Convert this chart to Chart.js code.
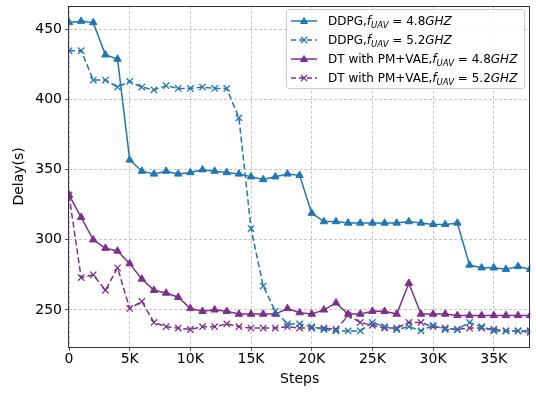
<!DOCTYPE html>
<html>
<head>
<meta charset="utf-8">
<script src="https://cdn.jsdelivr.net/npm/chart.js@4"></script>
<style>
body { margin: 0; background: #fff; }
#wrap { position: relative; width: 536px; height: 393px; }
#legend {
	position: absolute; left: 286px; top: 9px; width: 237px; height: 77px;
	border: 1px solid #cccccc; border-radius: 3px; background: rgba(255,255,255,0.85);
	font-family: "DejaVu Sans"; font-size: 12px; color: #000; padding-top: 1px;
}
.row { height: 19px; display: flex; align-items: center; white-space: nowrap; }
.row svg { margin-left: 3px; margin-right: 10px; }
.sub { font-size: 8.5px; position: relative; top: 3px; font-style: italic; }
</style>
</head>
<body>
<div id="wrap">
	<canvas id="delayc" width="536" height="393"></canvas>
	<div id="legend"></div>
</div>
<script>
// Data

var steps = [0, 1000, 2000, 3000, 4000, 5000, 6000, 7000, 8000, 9000, 10000, 11000, 12000, 13000, 14000, 15000, 16000, 17000, 18000, 19000,
	20000, 21000, 22000, 23000, 24000, 25000, 26000, 27000, 28000, 29000, 30000, 31000, 32000, 33000, 34000, 35000, 36000, 37000, 38000];

var ddpg48 = [455, 456, 455, 432, 429, 357, 349, 347, 349, 347, 348, 350, 349, 348, 347, 345, 343, 345, 347, 346,
	319, 313, 313, 312, 312, 312, 312, 312, 313, 312, 311, 311, 312, 282, 280, 280, 279, 281, 279];
var ddpg52 = [435, 435, 414, 414, 409, 413, 409, 407, 410, 408, 408, 409, 408, 408, 387, 308, 267, 249, 240, 240,
	238, 236, 235, 235, 235, 241, 238, 236, 238, 235, 239, 236, 236, 241, 238, 235, 235, 235, 234];
var dt48 = [332, 316, 300, 294, 292, 283, 272, 264, 262, 259, 251, 249, 250, 249, 247, 247, 247, 247, 251, 248,
	247, 250, 255, 247, 247, 249, 249, 247, 269, 247, 247, 247, 246, 246, 246, 246, 246, 246, 246];
var dt52 = [332, 273, 275, 264, 280, 251, 256, 241, 238, 237, 236, 238, 238, 240, 238, 237, 237, 237, 238, 237,
	237, 237, 236, 246, 241, 239, 237, 237, 241, 241, 238, 237, 236, 237, 237, 236, 235, 235, 235];

var xTicks = [0, 5000, 10000, 15000, 20000, 25000, 30000, 35000];
var yTicks = [250, 300, 350, 400, 450];

var blue = "#1f77b4";
var purple = "#7e2f8e";

// Legend

var series = [
	{name: "DDPG,", freq: "4.8", color: blue, dashed: false, marker: "tri"},
	{name: "DDPG,", freq: "5.2", color: blue, dashed: true, marker: "x"},
	{name: "DT with PM+VAE,", freq: "4.8", color: purple, dashed: false, marker: "tri"},
	{name: "DT with PM+VAE,", freq: "5.2", color: purple, dashed: true, marker: "x"}
];

function sample(s) {
	var dash = s.dashed ? ' stroke-dasharray="5,3"' : '';
	var mark;
	if (s.marker == "tri") {
		mark = '<polygon points="14,2.5 17.5,8.5 10.5,8.5" fill="' + s.color + '" stroke="' + s.color + '"/>';
	} else {
		mark = '<path d="M11,3 L17,9 M17,3 L11,9" stroke="' + s.color + '" stroke-width="1.3"/>';
	}
	return '<svg width="28" height="12"><line x1="1" y1="6" x2="27" y2="6" stroke="' + s.color + '" stroke-width="1.5"' + dash + '/>' + mark + '</svg>';
}

var html = '';
series.forEach(function(s) {
	html += '<div class="row">' + sample(s) + '<span>' + s.name + '<i>f</i><span class="sub">UAV</span> = ' + s.freq + '<i>GHZ</i></span></div>';
});
document.getElementById('legend').innerHTML = html;

// Frame round the plot

var frame = {
	id: 'frame',
	afterDatasetsDraw: function(chart) {
		var a = chart.chartArea;
		var ctx = chart.ctx;
		ctx.save();
		ctx.strokeStyle = "#333";
		ctx.lineWidth = 1;
		ctx.strokeRect(Math.round(a.left) - 0.5, Math.round(a.top) + 0.5, Math.round(a.right - a.left), Math.round(a.bottom - a.top));
		ctx.restore();
	}
};

// Chart

Chart.defaults.font.family = "DejaVu Sans";

function line(label, data, color, dashed, marker) {
	return {
		label: label,
		data: data,
		borderColor: color,
		backgroundColor: color,
		borderWidth: 1.5,
		borderDash: dashed ? [6, 3] : [],
		pointStyle: marker,
		pointRadius: marker == "triangle" ? 4.3 : 4.5,
		pointBorderWidth: marker == "triangle" ? 1 : 1.3,
		tension: 0
	};
}

new Chart("delayc", {
	type: "line",
	data: {
		labels: steps,
		datasets: [
			line("DDPG 4.8", ddpg48, blue, false, "triangle"),
			line("DDPG 5.2", ddpg52, blue, true, "crossRot"),
			line("DT 4.8", dt48, purple, false, "triangle"),
			line("DT 5.2", dt52, purple, true, "crossRot")
		]
	},
	options: {
		responsive: false,
		animation: false,
		layout: {padding: {left: 11, top: 3, right: 4, bottom: 0}},
		plugins: {legend: {display: false}, tooltip: {enabled: false}},
		scales: {
			x: {
				type: "linear",
				min: 0,
				max: 38000,
				afterFit: function(s) { s.height = 46; s.paddingLeft = 0; s.paddingRight = 0; },
				afterBuildTicks: function(s) { s.ticks = xTicks.map(function(v) { return {value: v}; }); },
				ticks: {
					callback: function(v) { return v == 0 ? "0" : (v / 1000) + "K"; },
					color: "#000", font: {size: 14}, padding: 0, maxRotation: 0, autoSkip: false
				},
				grid: {color: "#b8b8b8", lineWidth: 0.8, tickColor: "#333", tickLength: 4},
				border: {display: false, dash: [3, 2]},
				title: {display: true, text: "Steps", color: "#000", font: {size: 14}, padding: {top: 0, bottom: 5}}
			},
			y: {
				min: 223.5,
				max: 467,
				afterFit: function(s) { s.width = 58; s.paddingTop = 0; s.paddingBottom = 0; },
				afterBuildTicks: function(s) { s.ticks = yTicks.map(function(v) { return {value: v}; }); },
				ticks: {color: "#000", font: {size: 14}, padding: 3},
				grid: {color: "#b8b8b8", lineWidth: 0.8, tickColor: "#333", tickLength: 4},
				border: {display: false, dash: [3, 2]},
				title: {display: true, text: "Delay(s)", color: "#000", font: {size: 14}, padding: 0}
			}
		}
	},
	plugins: [frame]
});
</script>
</body>
</html>
